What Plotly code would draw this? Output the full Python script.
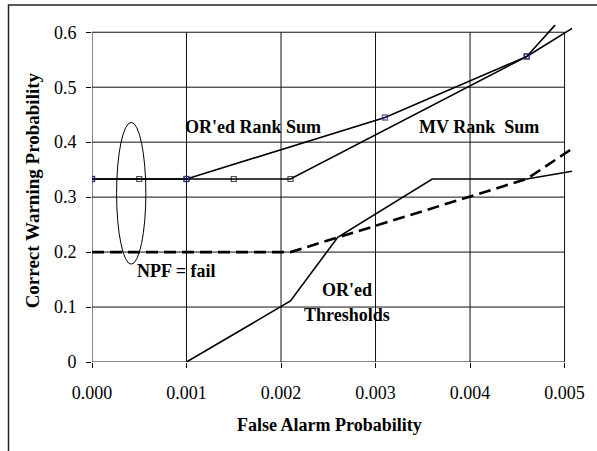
import plotly.graph_objects as go

# ---- data ----
mv_x = [0.0, 0.0005, 0.001, 0.0015, 0.0021, 0.0046, 0.00508]
mv_y = [0.333, 0.333, 0.333, 0.333, 0.333, 0.556, 0.607]

or_x = [0.0, 0.001, 0.0031, 0.0046, 0.0049]
or_y = [0.333, 0.333, 0.445, 0.556, 0.613]

thr_x = [0.001, 0.0021, 0.0026, 0.0036, 0.0046, 0.00508]
thr_y = [0.0, 0.111, 0.227, 0.333, 0.333, 0.347]

npf_x = [0.0, 0.0021, 0.0046, 0.00507]
npf_y = [0.2, 0.2, 0.333, 0.387]

x_ticks = [0.0, 0.001, 0.002, 0.003, 0.004, 0.005]
x_tick_labels = ["0.000", "0.001", "0.002", "0.003", "0.004", "0.005"]
y_ticks = [0.0, 0.1, 0.2, 0.3, 0.4, 0.5, 0.6]
y_tick_labels = ["0", "0.1", "0.2", "0.3", "0.4", "0.5", "0.6"]

# ---- layout geometry ----
W, H = 597, 451
ML, MR, MT, MB = 92, 20, 24, 89
XMAX, YMAX = 0.0051, 0.615
PW, PH = W - ML - MR, H - MT - MB


def px_to_paper(px, py):
    return (px - ML) / PW, (H - MB - py) / PH


FONT = "Liberation Serif, Times New Roman, serif"

fig = go.Figure()


def marker_sizes(xs, ys):
    # no marker on the tail that runs past the plot box
    return [5 if (x <= x_ticks[-1] and y <= y_ticks[-1]) else 0
            for x, y in zip(xs, ys)]


fig.add_trace(go.Scatter(x=npf_x, y=npf_y, mode="lines",
                         line=dict(color="black", width=2.6, dash="12px,6px")))
fig.add_trace(go.Scatter(x=thr_x, y=thr_y, mode="lines",
                         line=dict(color="black", width=1.6)))
fig.add_trace(go.Scatter(x=mv_x, y=mv_y, mode="lines+markers",
                         line=dict(color="black", width=1.6),
                         marker=dict(symbol="square-open",
                                     size=marker_sizes(mv_x, mv_y),
                                     color="black", line=dict(width=1.2))))
fig.add_trace(go.Scatter(x=or_x, y=or_y, mode="lines+markers",
                         line=dict(color="black", width=1.6),
                         marker=dict(symbol="square-open",
                                     size=marker_sizes(or_x, or_y),
                                     color="#2b2b9a", line=dict(width=1.4))))

shapes = []
# gridlines / plot box limited to 0..0.005, 0..0.6
for xv in x_ticks:
    shapes.append(dict(type="line", xref="x", yref="y", x0=xv, x1=xv,
                       y0=0, y1=y_ticks[-1], line=dict(color="#111", width=1),
                       layer="below"))
for yv in y_ticks:
    shapes.append(dict(type="line", xref="x", yref="y", x0=0, x1=x_ticks[-1],
                       y0=yv, y1=yv, line=dict(color="#111", width=1),
                       layer="below"))
# ellipse around the NPF = fail region
shapes.append(dict(type="circle", xref="x", yref="y", x0=0.00026, x1=0.00057,
                   y0=0.178, y1=0.436, line=dict(color="black", width=1)))
# outer chart frame (top & left visible)
fx0, fy1 = px_to_paper(8, 5)
fx1, fy0 = px_to_paper(W + 20, H + 20)
shapes.append(dict(type="rect", xref="paper", yref="paper", x0=fx0, x1=fx1,
                   y0=fy0, y1=fy1, line=dict(color="#222", width=1.5)))

ann_font = dict(family=FONT, size=18, color="black")
annotations = [
    dict(x=0.0017, y=0.427, text="<b>OR'ed Rank Sum</b>"),
    dict(x=0.0041, y=0.427, text="<b>MV Rank\u00a0 Sum</b>"),
    dict(x=0.00089, y=0.165, text="<b>NPF = fail</b>"),
    dict(x=0.0027, y=0.131, text="<b>OR'ed</b>"),
    dict(x=0.0027, y=0.0855, text="<b>Thresholds</b>"),
]
for a in annotations:
    a.update(xref="x", yref="y", showarrow=False, font=ann_font,
             xanchor="center", yanchor="middle")

tx, ty = px_to_paper(330.5, 425)
annotations.append(dict(xref="paper", yref="paper", x=tx, y=ty, showarrow=False,
                        text="<b>False Alarm Probability</b>", font=ann_font,
                        xanchor="center", yanchor="middle"))
tx, ty = px_to_paper(33, 190)
annotations.append(dict(xref="paper", yref="paper", x=tx, y=ty, showarrow=False,
                        text="<b>Correct Warning Probability</b>",
                        font=dict(family=FONT, size=19, color="black"),
                        textangle=-90, xanchor="center", yanchor="middle"))

fig.update_layout(
    width=W, height=H,
    margin=dict(l=ML, r=MR, t=MT, b=MB),
    paper_bgcolor="white", plot_bgcolor="white",
    showlegend=False,
    shapes=shapes,
    annotations=annotations,
    xaxis=dict(range=[0, XMAX], tickvals=x_ticks, ticktext=x_tick_labels,
               showgrid=False, zeroline=False, showline=False,
               ticks="outside", ticklen=5, tickcolor="black", tickwidth=1,
               ticklabelstandoff=9,
               tickfont=dict(family=FONT, size=18, color="black")),
    yaxis=dict(range=[0, YMAX], tickvals=y_ticks, ticktext=y_tick_labels,
               showgrid=False, zeroline=False, showline=False,
               ticks="outside", ticklen=5, tickcolor="black", tickwidth=1,
               ticklabelstandoff=6,
               tickfont=dict(family=FONT, size=18, color="black")),
)

fig.write_html("out.html")
